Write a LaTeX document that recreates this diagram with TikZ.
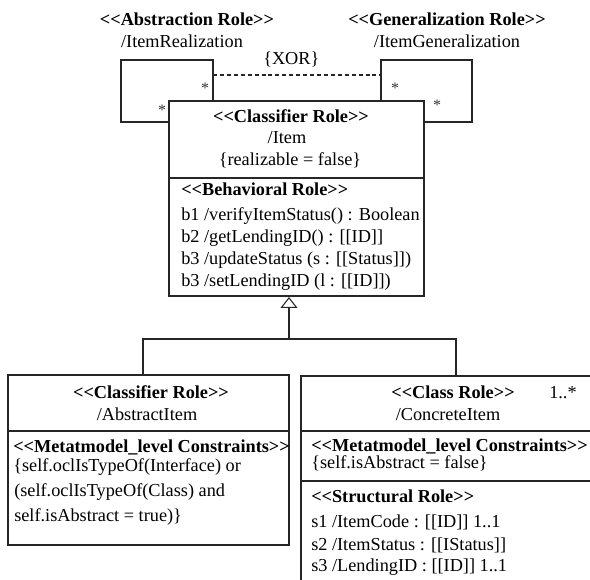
\documentclass[tikz,border=0pt]{standalone}
\usepackage{fontspec}
\setmainfont{Liberation Serif}[Ligatures=TeXOff]
\usetikzlibrary{arrows.meta}
\begin{document}
\begin{tikzpicture}[x=0.75pt,y=-0.75pt,
  ln/.style={draw=black!85, line width=0.8pt},
  box/.style={ln, rectangle, inner sep=0pt, outer sep=0pt, anchor=north west},
  txt/.style={inner sep=0pt, font=\fontsize{13.7}{16}\selectfont},
  bf/.style={inner sep=0pt, font=\fontsize{13.7}{16}\selectfont\bfseries},
  lt/.style={txt, anchor=base west},
  mult/.style={inner sep=0pt, font=\fontsize{12}{14}\selectfont, text=black!80},
  gen/.style={ln, -{Triangle[open, width=12.75pt, length=8.25pt]}}]
\useasboundingbox (0,0) rectangle (590,580);
\clip (0,0) rectangle (590,580);

% ---------------- classifier boxes ----------------
\node[box, minimum width=191.25pt, minimum height=146.25pt] (item) at (169,101) {};
\node[box, minimum width=210.75pt, minimum height=127.5pt] (lbox) at (8,375) {};
\node[box, minimum width=232.5pt, minimum height=168pt] (rbox) at (301,376) {};

% compartment separators
\coordinate (d1) at (0,178);
\coordinate (d2) at (0,431);
\coordinate (d3) at (0,481);
\draw[ln] (item.west |- d1) -- (item.east |- d1);
\draw[ln] (lbox.west |- d2) -- (lbox.east |- d2);
\draw[ln] (rbox.west |- d2) -- (rbox.east |- d2);
\draw[ln] (rbox.west |- d3) -- (rbox.east |- d3);

% ---------------- reflexive associations ----------------
\coordinate (lpNE) at (213,60);
\coordinate (lpSW) at (121,122);
\coordinate (rpNW) at (381,60);
\coordinate (rpSE) at (472,122);
\draw[ln] (lpNE |- item.north) -- (lpNE) -| (lpSW) -- (lpSW -| item.west);
\draw[ln] (rpNW |- item.north) -- (rpNW) -| (rpSE) -- (rpSE -| item.east);

\coordinate (xorL) at (213,75);
\coordinate (xorR) at (381,75);
\draw[ln, dash pattern=on 3pt off 2.2pt] (xorL) -- (xorR);
\node[txt, anchor=base west] (xor) at (263,65) {\{XOR\}};

\node[mult] (m1) at (205,88) {*};
\node[mult] (m2) at (162,110) {*};
\node[mult] (m3) at (395,88) {*};
\node[mult] (m4) at (437,105) {*};

\node[bf, anchor=base] (absR) at (187,26) {<<Abstraction Role>>};
\node[txt, anchor=base] (absN) at (182,48) {/ItemRealization};
\node[bf, anchor=base] (genR) at (447,26) {<<Generalization Role>>};
\node[txt, anchor=base] (genN) at (447,48) {/ItemGeneralization};

% ---------------- Item ----------------
\node[bf, anchor=base] (itR) at (291,123) {<<Classifier Role>>};
\node[txt, anchor=base] (itN) at (287,144) {/Item};
\node[txt, anchor=base] (itC) at (290,166) {\{realizable = false\}};
\node[bf, anchor=base west] (itB) at (181,196) {<<Behavioral Role>>};
\node[lt] (b1) at (181,221) {b1 /verifyItemStatus() : Boolean};
\node[lt] (b2) at (181,243) {b2 /getLendingID() : [[ID]]};
\node[lt] (b3) at (181,265) {b3 /updateStatus (s : [[Status]])};
\node[lt] (b4) at (181,287) {b3 /setLendingID (l : [[ID]])};

% ---------------- generalization ----------------
\coordinate (tip) at (289,297);
\coordinate (bar) at (289,339);
\coordinate (jl) at (143,339);
\coordinate (jr) at (456,339);
\draw[ln] (jl |- lbox.north) -- (jl) -- (jr) -- (jr |- rbox.north);
\draw[gen] (bar) -- (tip);

% ---------------- AbstractItem ----------------
\node[bf, anchor=base] (abR) at (151,399) {<<Classifier Role>>};
\node[txt, anchor=base] (abN) at (147,421) {/AbstractItem};
\node[bf, anchor=base west] (abM) at (13,453) {<<Metatmodel\_level Constraints>>};
\node[lt] (a1) at (13,472) {\{self.oclIsTypeOf(Interface) or};
\node[lt] (a2) at (14,497) {(self.oclIsTypeOf(Class) and};
\node[lt] (a3) at (14,522) {self.isAbstract = true)\}};

% ---------------- ConcreteItem ----------------
\node[bf, anchor=base] (crR) at (453,399) {<<Class Role>>};
\node[txt, anchor=base west] (crM) at (549,399) {1..*};
\node[txt, anchor=base] (crN) at (448,421) {/ConcreteItem};
\node[bf, anchor=base west] (crK) at (311,452) {<<Metatmodel\_level Constraints>>};
\node[lt] (c1) at (311,469) {\{self.isAbstract = false\}};
\node[bf, anchor=base west] (crS) at (311,503) {<<Structural Role>>};
\node[lt] (s1) at (311,528) {s1 /ItemCode : [[ID]] 1..1};
\node[lt] (s2) at (311,551) {s2 /ItemStatus : [[IStatus]]};
\node[lt] (s3) at (311,572) {s3 /LendingID : [[ID]] 1..1};
\end{tikzpicture}
\end{document}
